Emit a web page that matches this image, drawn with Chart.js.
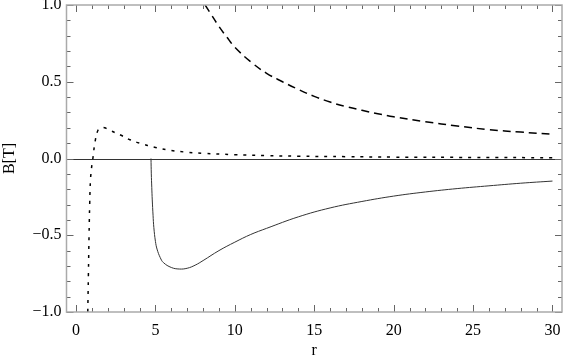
<!DOCTYPE html>
<html>
<head>
<meta charset="utf-8">
<script src="https://cdn.jsdelivr.net/npm/chart.js@4"></script>
<style>
  html, body { margin: 0; padding: 0; background: #fff; }
  #wrap { width: 564px; height: 364px; }
</style>
</head>
<body>
<div id="wrap"><canvas id="graph" width="564" height="364"></canvas></div>
<script>
// values
const solidR = [4.72, 4.74, 4.77, 4.8, 4.85, 4.9, 5.0, 5.1, 5.3, 5.5, 6.0, 6.5, 7.0, 7.5, 8.0, 9.0, 10, 11, 12, 14, 16, 18, 20, 22, 24, 26, 28, 30];
const solidB = [0, -0.1, -0.19, -0.27, -0.37, -0.45, -0.54, -0.59, -0.645, -0.678, -0.71, -0.72, -0.715, -0.695, -0.665, -0.6, -0.545, -0.495, -0.455, -0.38, -0.322, -0.28, -0.245, -0.218, -0.196, -0.178, -0.161, -0.147];

const dashR = [8.13, 8.5, 9, 9.5, 10, 11, 12, 13, 14, 15, 16, 17, 18, 19, 20, 22, 24, 26, 28, 30];
const dashB = [1.0, 0.94, 0.86, 0.79, 0.725, 0.63, 0.555, 0.5, 0.45, 0.405, 0.368, 0.338, 0.314, 0.292, 0.272, 0.24, 0.212, 0.188, 0.172, 0.158];

const dotR = [0.74, 0.78, 0.82, 0.86, 0.91, 1.0, 1.06, 1.2, 1.39, 1.6, 1.8, 2.2, 2.8, 3.4, 4, 5, 6, 7, 8, 10, 12, 14, 17, 20, 25, 30];
const dotB = [-1.0, -0.75, -0.5, -0.3, -0.14, -0.04, 0, 0.11, 0.186, 0.2, 0.2, 0.18, 0.153, 0.122, 0.1, 0.072, 0.052, 0.041, 0.034, 0.025, 0.019, 0.015, 0.012, 0.009, 0.007, 0.005];

const xTicks = [0, 5, 10, 15, 20, 25, 30];
const yTicks = [-1, -0.5, 0, 0.5, 1];
const yTickLabels = ['\u22121.0', '\u22120.5', '0.0', '0.5', '1.0'];

const serif = 'Liberation Serif';

function pts(xs, ys) {
  return xs.map((x, i) => ({ x: x, y: ys[i] }));
}

// frame, inward ticks and zero axis, Mathematica style
const framePlugin = {
  id: 'frame',
  beforeDatasetsDraw(chart) {
    const { ctx, chartArea: a, scales } = chart;
    const y0 = scales.y.getPixelForValue(0);
    ctx.save();
    ctx.strokeStyle = '#333';
    ctx.lineWidth = 1;
    ctx.beginPath();
    ctx.moveTo(a.left, Math.round(y0) + 0.5);
    ctx.lineTo(a.right, Math.round(y0) + 0.5);
    ctx.stroke();
    ctx.restore();
  },
  afterDatasetsDraw(chart) {
    const { ctx, chartArea: a, scales } = chart;
    ctx.save();
    ctx.lineWidth = 1;
    ctx.strokeStyle = '#666';
    ctx.beginPath();
    for (let v = 0; v <= 30; v++) {
      const px = Math.round(scales.x.getPixelForValue(v)) + 0.5;
      const len = v % 5 === 0 ? 7 : 4;
      ctx.moveTo(px, a.bottom); ctx.lineTo(px, a.bottom - len);
      ctx.moveTo(px, a.top); ctx.lineTo(px, a.top + len);
    }
    for (let k = -10; k <= 10; k++) {
      const py = Math.round(scales.y.getPixelForValue(k / 10)) + 0.5;
      const len = k % 5 === 0 ? 7 : 4;
      ctx.moveTo(a.left, py); ctx.lineTo(a.left + len, py);
      ctx.moveTo(a.right, py); ctx.lineTo(a.right - len, py);
    }
    ctx.stroke();
    ctx.strokeStyle = '#aaa';
    ctx.lineWidth = 1.5;
    ctx.strokeRect(a.left, a.top, a.right - a.left, a.bottom - a.top);
    ctx.restore();
  }
};

new Chart(document.getElementById('graph'), {
  type: 'line',
  data: {
    datasets: [
      {
        data: pts(solidR, solidB),
        borderColor: '#333',
        borderWidth: 1,
        pointRadius: 0,
        tension: 0.4
      },
      {
        data: pts(dashR, dashB),
        borderColor: '#000',
        borderWidth: 1.5,
        borderDash: [8, 5],
        pointRadius: 0,
        tension: 0.4
      },
      {
        data: pts(dotR, dotB),
        borderColor: '#000',
        borderWidth: 1.5,
        borderDash: [3, 6],
        pointRadius: 0,
        tension: 0.4
      }
    ]
  },
  options: {
    responsive: false,
    animation: false,
    layout: { padding: { top: 5, right: 2, left: 0, bottom: 0 } },
    plugins: { legend: { display: false }, tooltip: { enabled: false } },
    scales: {
      x: {
        type: 'linear',
        min: -0.6,
        max: 30.6,
        afterBuildTicks: s => { s.ticks = xTicks.map(v => ({ value: v })); },
        afterFit: s => { s.height = 52; s.paddingLeft = 0; s.paddingRight = 0; },
        grid: { display: false, drawTicks: false },
        border: { display: false },
        ticks: { color: '#000', padding: 9, font: { family: serif, size: 16 } },
        title: { display: true, text: 'r', color: '#000', padding: { top: 10 }, font: { family: serif, size: 16 } }
      },
      y: {
        type: 'linear',
        min: -1,
        max: 1,
        afterBuildTicks: s => { s.ticks = yTicks.map(v => ({ value: v })); },
        afterFit: s => { s.width = 66.5; s.paddingTop = 0; s.paddingBottom = 0; },
        grid: { display: false, drawTicks: false },
        border: { display: false },
        ticks: {
          color: '#000', padding: 5, font: { family: serif, size: 16 },
          callback: v => yTickLabels[yTicks.indexOf(v)]
        },
        title: { display: true, text: 'B[T]', color: '#000', padding: 0, font: { family: serif, size: 16 } }
      }
    }
  },
  plugins: [framePlugin]
});
</script>
</body>
</html>
